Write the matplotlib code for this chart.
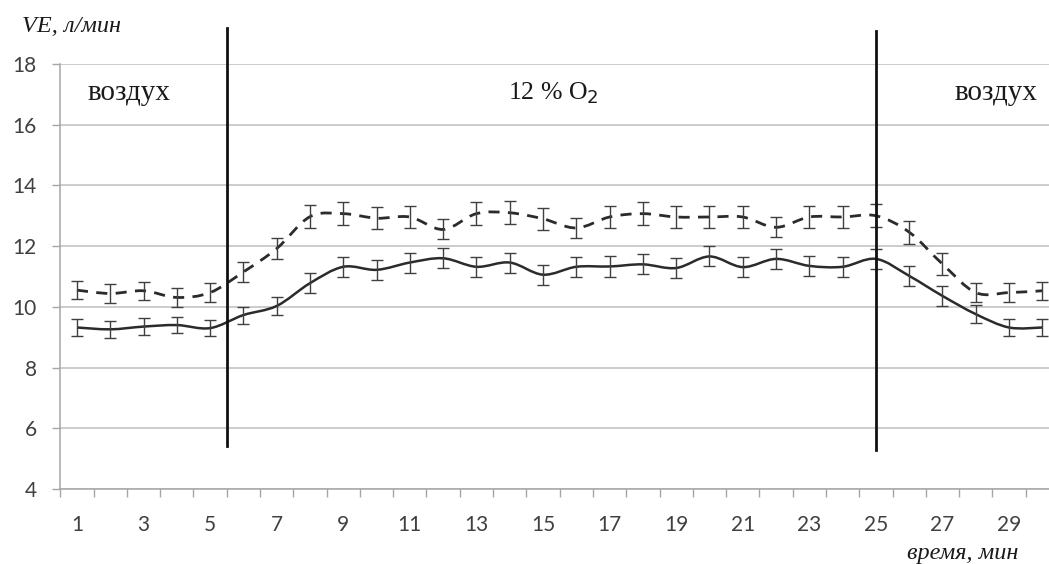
#### Workspace setup ####
import numpy as np
import matplotlib
matplotlib.use('Agg')
import matplotlib.pyplot as plt
from matplotlib.path import Path
from matplotlib.patches import PathPatch

#### Data ####
minutes = list(range(1, 31))
ve_air = [9.32, 9.26, 9.35, 9.40, 9.30, 9.73, 10.03, 10.78, 11.32, 11.22,
          11.46, 11.60, 11.32, 11.46, 11.06, 11.32, 11.33, 11.40, 11.28, 11.66,
          11.31, 11.58, 11.35, 11.32, 11.58, 11.02, 10.36, 9.76, 9.32, 9.32]
ve_air_err = [0.27, 0.27, 0.27, 0.27, 0.27, 0.28, 0.30, 0.33, 0.33, 0.33,
              0.33, 0.33, 0.33, 0.33, 0.33, 0.33, 0.33, 0.33, 0.33, 0.33,
              0.33, 0.33, 0.33, 0.33, 0.33, 0.33, 0.33, 0.30, 0.28, 0.27]
ve_hyp = [10.55, 10.44, 10.53, 10.31, 10.47, 11.15, 11.92, 12.97, 13.07, 12.92,
          12.96, 12.55, 13.07, 13.10, 12.90, 12.60, 12.96, 13.07, 12.96, 12.96,
          12.96, 12.62, 12.96, 12.96, 13.00, 12.46, 11.41, 10.47, 10.47, 10.53]
ve_hyp_err = [0.30, 0.30, 0.30, 0.30, 0.30, 0.33, 0.35, 0.38, 0.38, 0.36,
              0.36, 0.33, 0.38, 0.38, 0.36, 0.33, 0.36, 0.38, 0.36, 0.36,
              0.36, 0.33, 0.36, 0.36, 0.38, 0.38, 0.35, 0.30, 0.30, 0.30]
x_labels = [str(m) for m in minutes[::2]]
switch_times = [5.5, 25.0]
phase_labels = ['воздух', '12 % O$_2$', 'воздух']
phase_x = [2.56, 15.3, 28.6]
phase_sizes = [21, 18.5, 21]


#### Utility functions ####
def smooth_path(x, y):
    '''
    Builds an Excel-like smoothed line (cubic Bezier, Catmull-Rom control points).
    '''
    pts = np.column_stack([x, y]).astype(float)
    verts = [pts[0]]
    codes = [Path.MOVETO]
    n = len(pts)
    for i in range(n - 1):
        p0 = pts[max(i - 1, 0)]
        p1 = pts[i]
        p2 = pts[i + 1]
        p3 = pts[min(i + 2, n - 1)]
        verts += [p1 + (p2 - p0) / 6, p2 - (p3 - p1) / 6, p2]
        codes += [Path.CURVE4] * 3
    return Path(verts, codes)


#### Plot ####
fig = plt.figure(figsize=(10.49, 5.64), dpi=100)
ax = fig.add_axes([60.3 / 1049, 1 - 489 / 564, (1059 - 60.3) / 1049, (489 - 64) / 564])

grid_c = '#bfbfbf'
ax.set_xlim(0.5, 30.5)
ax.set_ylim(4, 18)
ax.set_yticks(range(4, 19, 2))
ax.yaxis.grid(True, color=grid_c, linewidth=1.1)
ax.set_axisbelow(True)

for s in ['top', 'right']:
    ax.spines[s].set_visible(False)
ax.spines['left'].set_color('#a6a6a6')
ax.spines['bottom'].set_color('#a6a6a6')
ax.spines['left'].set_linewidth(1.1)
ax.spines['bottom'].set_linewidth(1.1)

# category ticks sit between categories, labels on odd minutes
ax.set_xticks(minutes[::2])
ax.set_xticklabels(x_labels)
ax.set_xticks(np.arange(0.5, 31, 1), minor=True)
ax.tick_params(axis='x', which='major', length=0, pad=19, labelsize=15, labelcolor='#404040')
ax.tick_params(axis='x', which='minor', length=6, width=1, color='#a6a6a6', direction='out')
ax.tick_params(axis='y', length=6, width=1, color='#a6a6a6', pad=11,
               labelsize=15, labelcolor='#404040')
for lbl in ax.get_xticklabels() + ax.get_yticklabels():
    lbl.set_family('Lato')

line_c = '#2b2b2b'
err_c = '#404040'
ax.add_patch(PathPatch(smooth_path(minutes, ve_air), facecolor='none',
                       edgecolor=line_c, linewidth=1.8, zorder=3))
ax.add_patch(PathPatch(smooth_path(minutes, ve_hyp), facecolor='none',
                       edgecolor=line_c, linewidth=2.0, linestyle=(0, (4, 3)), zorder=3))
ax.errorbar(minutes, ve_air, yerr=ve_air_err, fmt='none', ecolor=err_c,
            elinewidth=1.0, capsize=4.3, capthick=1.0, zorder=4)
ax.errorbar(minutes, ve_hyp, yerr=ve_hyp_err, fmt='none', ecolor=err_c,
            elinewidth=1.0, capsize=4.3, capthick=1.0, zorder=4)

# phase boundaries
ax.plot([switch_times[0]] * 2, [5.43, 19.2], color='#111111', linewidth=2, clip_on=False, zorder=5)
ax.plot([switch_times[1]] * 2, [5.30, 19.1], color='#111111', linewidth=2, clip_on=False, zorder=5)

for xp, txt, fs in zip(phase_x, phase_labels, phase_sizes):
    ax.text(xp, 17.05, txt, ha='center', va='center', fontsize=fs,
            family='Liberation Serif', color='#1a1a1a')

fig.text(22 / 1049, 1 - 27 / 564, 'VE, л/мин', ha='left', va='center', fontsize=17.5,
         family='Liberation Serif', style='italic', color='#1a1a1a')
fig.text(1018 / 1049, 1 - 553 / 564, 'время, мин', ha='right', va='center', fontsize=17.5,
         family='Liberation Serif', style='italic', color='#1a1a1a')

plt.savefig('out.png', dpi=100)
